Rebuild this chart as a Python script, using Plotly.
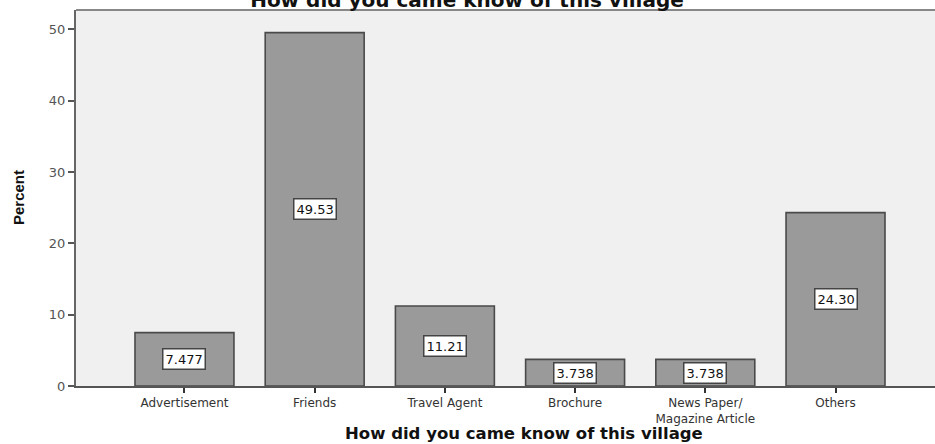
import plotly.graph_objects as go

categories = ["Advertisement", "Friends", "Travel Agent", "Brochure",
              "News Paper/<br>Magazine Article", "Others"]
percent = [7.477, 49.53, 11.21, 3.738, 3.738, 24.30]
value_labels = ["7.477", "49.53", "11.21", "3.738", "3.738", "24.30"]
y_ticks = [0, 10, 20, 30, 40, 50]

W, H = 935, 444
L, T, B, R = 76, 9.5, 58, 0
plot_h = H - T - B

x_idx = list(range(len(categories)))

fig = go.Figure()
fig.add_trace(go.Bar(
    x=x_idx, y=percent, width=0.76,
    marker=dict(color="#9a9a9a", line=dict(color="#4a4a4a", width=1.6)),
    hoverinfo="skip",
))

annotations = []
for i, (v, lab) in enumerate(zip(percent, value_labels)):
    annotations.append(dict(
        x=i, y=v / 2, xref="x", yref="y", text=lab, showarrow=False,
        font=dict(family="DejaVu Sans", size=13, color="#111"),
        bgcolor="white", bordercolor="#444", borderwidth=1.5, borderpad=2,
    ))

# axis titles
annotations.append(dict(
    x=(524 - L) / (W - L), y=-(434 - 386) / plot_h, xref="paper", yref="paper",
    text="<b>How did you came know of this village</b>", showarrow=False,
    font=dict(family="DejaVu Sans", size=16.5, color="#111"),
    xanchor="center", yanchor="middle",
))
annotations.append(dict(
    x=-(76 - 18) / (W - L), y=0.5, xref="paper", yref="paper",
    text="<b>Percent</b>", showarrow=False, textangle=-90,
    font=dict(family="Liberation Sans Narrow, Liberation Sans", size=15, color="#111"),
    xanchor="center", yanchor="middle",
))

fig.update_layout(
    width=W, height=H,
    margin=dict(l=L, r=R, t=T, b=B, pad=0),
    paper_bgcolor="white", plot_bgcolor="#f0f0f0",
    showlegend=False,
    bargap=0.24,
    title=dict(text="<b>How did you came know of this village</b>",
               x=467 / W, xanchor="center", y=1.0, yanchor="middle",
               yref="container",
               font=dict(family="DejaVu Sans", size=20, color="#111")),
    annotations=annotations,
    xaxis=dict(
        range=[-0.833, 5.764], tickmode="array", tickvals=x_idx,
        ticktext=categories, ticks="outside", ticklen=5, tickwidth=1.5,
        tickcolor="#333", showgrid=False, zeroline=False,
        showline=True, linecolor="#555", linewidth=2,
        tickfont=dict(family="DejaVu Sans", size=12, color="#333"),
    ),
    yaxis=dict(
        range=[0, 52.7], tickmode="array", tickvals=y_ticks,
        ticks="outside", ticklen=6, tickwidth=1.5, tickcolor="#555",
        showgrid=False, zeroline=False, showline=True, linecolor="#666",
        linewidth=2, mirror=False,
        tickfont=dict(family="DejaVu Sans", size=13, color="#555"),
    ),
    shapes=[dict(type="line", xref="paper", yref="paper", x0=0, x1=1, y0=1, y1=1,
                 line=dict(color="#888", width=2))],
)

fig.write_html("out.html")
